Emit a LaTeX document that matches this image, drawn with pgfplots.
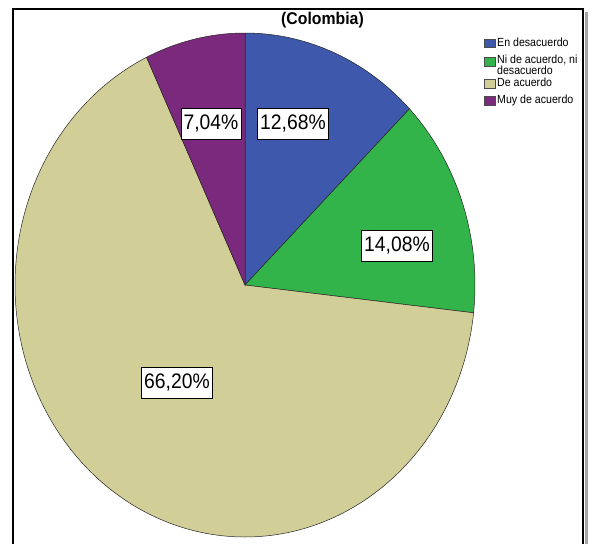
\documentclass[border=0pt]{standalone}
\usepackage{pgfplots}
\pgfplotsset{compat=1.18}
\usepackage{pgfplotstable}
\usepackage{fontspec}
\setmainfont{Liberation Sans}
\definecolor{cBlue}{RGB}{62,88,171}
\definecolor{cGreen}{RGB}{50,180,74}
\definecolor{cTan}{RGB}{210,206,152}
\definecolor{cPurple}{RGB}{123,41,125}

\pgfplotstableread{
idx pct
0 12.68
1 14.08
2 66.20
3 7.04
}\piedata

\begin{document}
\begin{tikzpicture}[
  lbl/.style={draw=black, fill=white, line width=0.6pt, inner xsep=3pt, inner ysep=0pt,
    minimum height=31pt, xscale=0.92, font=\fontsize{21}{25}\selectfont},
  leg/.style={anchor=mid west, inner sep=0pt, xscale=0.9, font=\fontsize{11.8}{13}\selectfont}]
\pgfplotstablegetelem{0}{pct}\of\piedata \let\pA\pgfplotsretval
\pgfplotstablegetelem{1}{pct}\of\piedata \let\pB\pgfplotsretval
\pgfplotstablegetelem{2}{pct}\of\piedata \let\pC\pgfplotsretval
\pgfplotstablegetelem{3}{pct}\of\piedata \let\pD\pgfplotsretval
\pgfmathsetmacro\aO{90}
\pgfmathsetmacro\aA{\aO-3.6*\pA}
\pgfmathsetmacro\aB{\aA-3.6*\pB}
\pgfmathsetmacro\aC{\aB-3.6*\pC}
\pgfmathsetmacro\aD{\aC-3.6*\pD}
\useasboundingbox (0,0) rectangle (593pt,543pt);
\begin{axis}[at={(0,0)}, anchor=south west, scale only axis,
  width=593pt, height=543pt, xmin=0, xmax=593, ymin=0, ymax=543,
  y dir=reverse, hide axis, clip=false]
% sectors
\addplot[fill=cBlue, draw=black!85, line width=0.5pt, domain=\aA:\aO, samples=60, variable=\t]
  ({245+230*cos(\t)},{285-252*sin(\t)}) -- (axis cs:245,285) -- cycle;
\addplot[fill=cGreen, draw=black!85, line width=0.5pt, domain=\aB:\aA, samples=60, variable=\t]
  ({245+230*cos(\t)},{285-252*sin(\t)}) -- (axis cs:245,285) -- cycle;
\addplot[fill=cTan, draw=black!85, line width=0.5pt, domain=\aC:\aB, samples=200, variable=\t]
  ({245+230*cos(\t)},{285-252*sin(\t)}) -- (axis cs:245,285) -- cycle;
\addplot[fill=cPurple, draw=black!85, line width=0.5pt, domain=\aD:\aC, samples=40, variable=\t]
  ({245+230*cos(\t)},{285-252*sin(\t)}) -- (axis cs:245,285) -- cycle;
% labels
\node[lbl] at (axis cs:293,123.5) {12,68\%};
\node[lbl] at (axis cs:397,245.5) {14,08\%};
\node[lbl] at (axis cs:177,383) {66,20\%};
\node[lbl] at (axis cs:211,124) {7,04\%};
% frame
\draw[black!35, line width=3pt] (axis cs:586.5,12) -- (axis cs:586.5,600);
\draw[line width=1.8pt] (axis cs:13,600) -- (axis cs:13,9) -- (axis cs:583,9) -- (axis cs:583,600);
% title
\node[font=\bfseries\fontsize{17}{20}\selectfont, xscale=0.93] at (axis cs:322.5,20.5) {(Colombia)};
% legend
\filldraw[fill=cBlue, draw=black!70, line width=0.4pt] (axis cs:484,39) rectangle (axis cs:495,47.5);
\filldraw[fill=cGreen, draw=black!70, line width=0.4pt] (axis cs:484,57.5) rectangle (axis cs:495,66);
\filldraw[fill=cTan, draw=black!70, line width=0.4pt] (axis cs:484,79.5) rectangle (axis cs:495,88);
\filldraw[fill=cPurple, draw=black!70, line width=0.4pt] (axis cs:484,96.5) rectangle (axis cs:495,105);
\node[leg] at (axis cs:497,44) {En desacuerdo};
\node[leg] at (axis cs:497,61) {Ni de acuerdo, ni};
\node[leg] at (axis cs:497,72) {desacuerdo};
\node[leg] at (axis cs:497,83.5) {De acuerdo};
\node[leg] at (axis cs:497,101) {Muy de acuerdo};
\end{axis}
\end{tikzpicture}
\end{document}
